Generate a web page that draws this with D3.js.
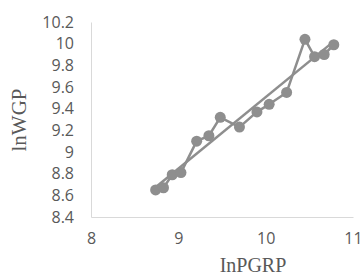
<!DOCTYPE html>
<html>
<head>
<meta charset="utf-8">
<script src="https://cdn.jsdelivr.net/npm/d3@7"></script>
<style>
  html, body { margin: 0; padding: 0; background: #fff; }
  svg { display: block; }
</style>
</head>
<body>
<div id="chart"></div>
<script>
const lnPGRP = [8.74, 8.83, 8.93, 9.03, 9.21, 9.35, 9.48, 9.70, 9.90, 10.04, 10.24, 10.45, 10.56, 10.67, 10.78];
const lnWGP = [8.65, 8.67, 8.79, 8.81, 9.10, 9.15, 9.32, 9.23, 9.37, 9.44, 9.55, 10.04, 9.88, 9.90, 9.99];
const xTicks = [8, 9, 10, 11];
const yTicks = [8.4, 8.6, 8.8, 9, 9.2, 9.4, 9.6, 9.8, 10, 10.2];

const width = 363;
const height = 277;
const margin = { top: 22, right: 10, bottom: 60, left: 91 };
const innerW = 353 - margin.left;
const innerH = 217 - margin.top;
const grey = '#8e8e8e';
const textCol = '#595959';

const points = lnPGRP.map((x, i) => ({ x, y: lnWGP[i] }));

const svg = d3.select('#chart')
  .append('svg')
  .attr('width', width)
  .attr('height', height);

const g = svg.append('g').attr('transform', `translate(${margin.left},${margin.top})`);

const x = d3.scaleLinear().domain([8, 11]).range([0, innerW]);
const y = d3.scaleLinear().domain([8.4, 10.2]).range([innerH, 0]);

// Y axis
g.append('g')
  .call(d3.axisLeft(y).tickValues(yTicks).tickSize(0).tickPadding(17).tickFormat(d3.format('~g')))
  .call(a => a.select('.domain').attr('stroke', '#d9d9d9').attr('stroke-width', 1))
  .call(a => a.selectAll('.tick text')
    .attr('fill', textCol)
    .style('font-family', '"Open Sans", Lato, sans-serif')
    .style('font-size', '16px'));

// X axis
g.append('g')
  .attr('transform', `translate(0,${innerH})`)
  .call(d3.axisBottom(x).tickValues(xTicks).tickSize(0).tickPadding(16).tickFormat(d3.format('d')))
  .call(a => a.select('.domain').attr('stroke', '#d9d9d9').attr('stroke-width', 1))
  .call(a => a.selectAll('.tick text')
    .attr('fill', textCol)
    .style('font-family', '"Open Sans", Lato, sans-serif')
    .style('font-size', '16px'));

// linear trendline (least squares over the points)
const mx = d3.mean(points, d => d.x);
const my = d3.mean(points, d => d.y);
const slope = d3.sum(points, d => (d.x - mx) * (d.y - my)) / d3.sum(points, d => (d.x - mx) ** 2);
const icpt = my - slope * mx;
const xExt = d3.extent(points, d => d.x);

g.append('line')
  .attr('x1', x(xExt[0])).attr('y1', y(icpt + slope * xExt[0]))
  .attr('x2', x(xExt[1])).attr('y2', y(icpt + slope * xExt[1]))
  .attr('stroke', grey)
  .attr('stroke-width', 2.5);

// connecting line
const line = d3.line().x(d => x(d.x)).y(d => y(d.y));
g.append('path')
  .datum(points)
  .attr('d', line)
  .attr('fill', 'none')
  .attr('stroke', grey)
  .attr('stroke-width', 2.5)
  .attr('stroke-linejoin', 'round');

// markers
g.selectAll('circle')
  .data(points)
  .join('circle')
  .attr('cx', d => x(d.x))
  .attr('cy', d => y(d.y))
  .attr('r', 5.5)
  .attr('fill', grey);

// axis titles
svg.append('text')
  .attr('x', 253)
  .attr('y', 272)
  .attr('text-anchor', 'middle')
  .attr('fill', textCol)
  .style('font-family', '"Liberation Serif", "Times New Roman", serif')
  .style('font-size', '20px')
  .text('InPGRP');

svg.append('text')
  .attr('transform', 'translate(26,120) rotate(-90)')
  .attr('text-anchor', 'middle')
  .attr('fill', textCol)
  .style('font-family', '"Liberation Serif", "Times New Roman", serif')
  .style('font-size', '21px')
  .text('lnWGP');
</script>
</body>
</html>
